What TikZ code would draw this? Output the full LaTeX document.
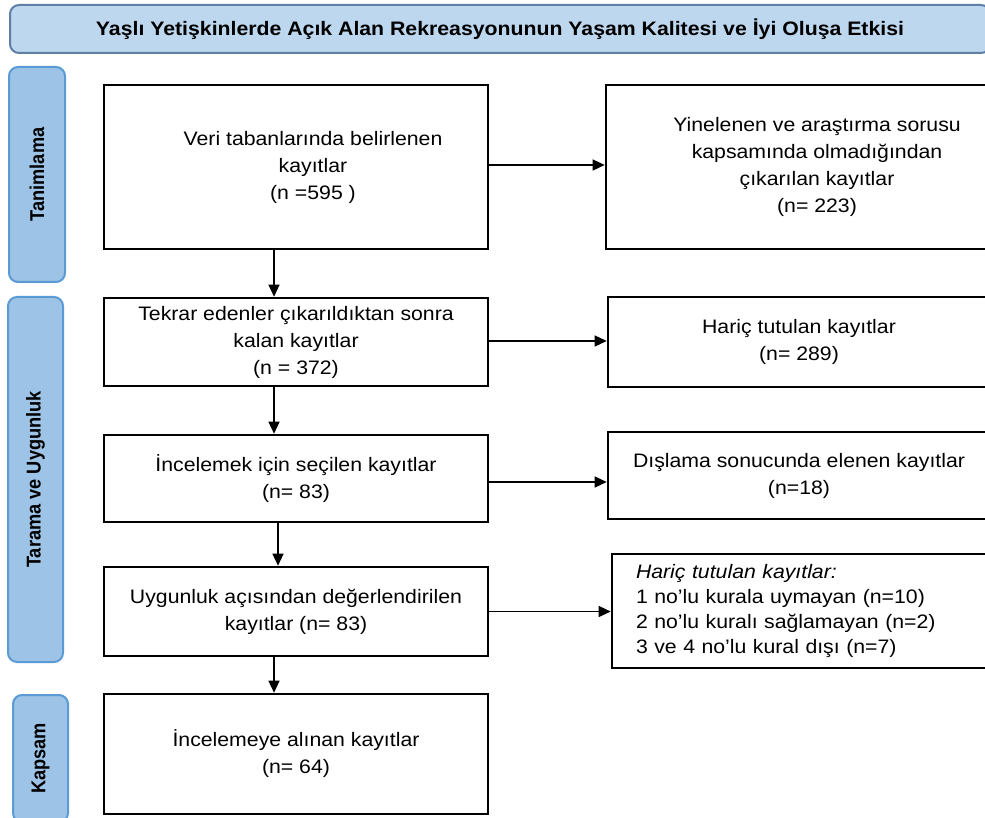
\documentclass[tikz,border=0pt]{standalone}
\usepackage{fontspec}
\setmainfont{Liberation Sans}[FakeStretch=1.09]
\newfontfamily\sidefont{Liberation Sans}[FakeStretch=0.91]
\usetikzlibrary{arrows.meta}
\definecolor{titlefill}{HTML}{BDD7EE}
\definecolor{titledraw}{HTML}{5E7FA6}
\definecolor{sidefill}{HTML}{9DC3E6}
\definecolor{sidedraw}{HTML}{5B9BD5}
\tikzset{
  flowarrow/.style={-{Triangle[length=12pt,width=11pt]}, line width=1.3pt},
  recbox/.style={draw, line width=2.6pt, fill=white, align=center, inner sep=0pt, font=\fontsize{19.5}{27}\selectfont},
  sidebox/.style={draw=sidedraw, line width=2pt, fill=sidefill, rounded corners=9pt, inner sep=0pt, rotate=90, font=\sidefont\bfseries\fontsize{20}{22}\selectfont},
  titlebox/.style={draw=titledraw, line width=2pt, fill=titlefill, rounded corners=9pt, inner sep=0pt, font=\bfseries\fontsize{19.5}{22}\selectfont}
}

\begin{document}
\begin{tikzpicture}[x=1pt, y=-1pt]
  \clip (0,0) rectangle (985,818);
  \useasboundingbox (0,0) rectangle (985,818);
  \fill[white] (0,0) rectangle (985,818);
  % title and phases
  \node[titlebox, minimum width=980pt, minimum height=48pt] (title) at (500,29) {Yaşlı Yetişkinlerde Açık Alan Rekreasyonunun Yaşam Kalitesi ve İyi Oluşa Etkisi};
  \node[sidebox, minimum width=215pt, minimum height=56pt] (tanim) at (37,174.5) {Tanimlama};
  \node[sidebox, minimum width=365pt, minimum height=55pt] (tarama) at (35.5,479.5) {Tarama ve Uygunluk};
  \node[sidebox, minimum width=127pt, minimum height=55pt] (kapsam) at (40.5,758.5) {Kapsam};
  % main column
  \node[recbox, minimum width=384pt, minimum height=164pt] (veri) at (296,167) {\hspace*{34pt}Veri tabanlarında belirlenen\\ \hspace*{34pt}kayıtlar\\ \hspace*{34pt}(n =595 )};
  \node[recbox, minimum width=384pt, minimum height=88pt] (tekrar) at (296,342) {Tekrar edenler çıkarıldıktan sonra\\ kalan kayıtlar\\ (n = 372)};
  \node[recbox, minimum width=384pt, minimum height=87pt] (secilen) at (296,478.5) {İncelemek için seçilen kayıtlar\\ (n= 83)};
  \node[recbox, minimum width=384pt, minimum height=89pt] (uygun) at (296,611.5) {Uygunluk açısından değerlendirilen\\ kayıtlar (n= 83)};
  \node[recbox, minimum width=384pt, minimum height=120pt] (alinan) at (296,754) {İncelemeye alınan kayıtlar\\ (n= 64)};
  % excluded column
  \node[recbox, minimum width=422pt, minimum height=164pt] (yinelenen) at (817,167) {Yinelenen ve araştırma sorusu\\ kapsamında olmadığından\\ çıkarılan kayıtlar\\ (n= 223)};
  \node[recbox, minimum width=382pt, minimum height=90pt] (haric) at (799,342) {Hariç tutulan kayıtlar\\ (n= 289)};
  \node[recbox, minimum width=382pt, minimum height=87pt] (dislama) at (799,475.5) {Dışlama sonucunda elenen kayıtlar\\ (n=18)};
  \node[recbox, align=left, text width=340pt, inner xsep=24pt, minimum height=114pt, font=\fontsize{19.5}{25}\selectfont] (kural) at (806,611) {\textit{Hariç tutulan kayıtlar:}\\ 1 no'lu kurala uymayan (n=10)\\ 2 no'lu kuralı sağlamayan (n=2)\\ 3 ve 4 no'lu kural dışı (n=7)};
  % arrows
  \draw[flowarrow] ([xshift=-22pt]veri.south) -- ([xshift=-22pt]tekrar.north);
  \draw[flowarrow] ([xshift=-22pt]tekrar.south) -- ([xshift=-22pt]secilen.north);
  \draw[flowarrow] ([xshift=-18pt]secilen.south) -- ([xshift=-18pt]uygun.north);
  \draw[flowarrow] ([xshift=-22pt]uygun.south) -- ([xshift=-22pt]alinan.north);
  \draw[flowarrow] ([yshift=2pt]veri.east) -- ([yshift=2pt]veri.east -| yinelenen.west);
  \draw[flowarrow] ([yshift=1pt]tekrar.east) -- ([yshift=1pt]tekrar.east -| haric.west);
  \draw[flowarrow] ([yshift=-3.5pt]secilen.east) -- ([yshift=-3.5pt]secilen.east -| dislama.west);
  \draw[flowarrow] (uygun.east) -- (uygun.east -| kural.west);
\end{tikzpicture}
\end{document}
